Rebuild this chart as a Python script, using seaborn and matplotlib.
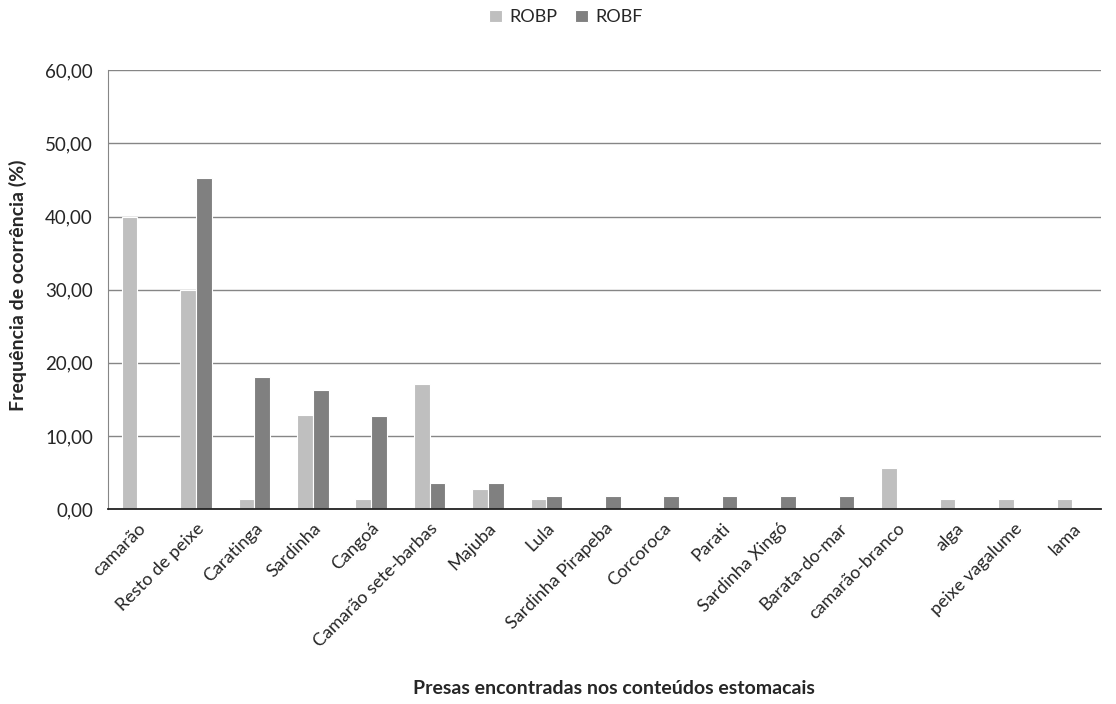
import pandas as pd
import matplotlib
matplotlib.use('Agg')
import matplotlib.pyplot as plt
import seaborn as sns
from matplotlib.ticker import FuncFormatter

presas = ["camarão", "Resto de peixe", "Caratinga", "Sardinha", "Cangoá",
          "Camarão sete-barbas", "Majuba", "Lula", "Sardinha Pirapeba",
          "Corcoroca", "Parati", "Sardinha Xingó", "Barata-do-mar",
          "camarão-branco", "alga", "peixe vagalume", "lama"]
robp = [39.9, 29.9, 1.33, 12.8, 1.33, 17.1, 2.8, 1.33, 0, 0, 0, 0, 0, 5.6, 1.33, 1.33, 1.33]
robf = [0, 45.3, 18.1, 16.3, 12.7, 3.6, 3.6, 1.75, 1.75, 1.75, 1.75, 1.75, 1.75, 0, 0, 0, 0]

df = pd.DataFrame({"presa": presas * 2,
                   "freq": robp + robf,
                   "grupo": ["ROBP"] * len(presas) + ["ROBF"] * len(presas)})

sns.set_style("white")
plt.rcParams['font.family'] = ['Lato', 'DejaVu Sans']

fig, ax = plt.subplots(figsize=(11.16, 7.04), dpi=100)
fig.subplots_adjust(left=0.097, right=0.987, top=0.9, bottom=0.277)

sns.barplot(data=df, x="presa", y="freq", hue="grupo",
            palette={"ROBP": "#BFBFBF", "ROBF": "#808080"},
            width=0.54, edgecolor="white", linewidth=0.8, ax=ax, zorder=3)

ax.set_ylim(0, 60)
ax.set_yticks(range(0, 61, 10))
ax.yaxis.set_major_formatter(FuncFormatter(lambda v, p: f"{v:.2f}".replace(".", ",")))
ax.grid(axis="y", color="#868686", linewidth=1, zorder=0)
ax.set_xlim(-0.5, len(presas) - 0.5)

for s in ["top", "right"]:
    ax.spines[s].set_visible(False)
ax.spines["left"].set_color("#868686")
ax.spines["bottom"].set_color("#222222")
ax.spines["bottom"].set_linewidth(1.3)
ax.spines["bottom"].set_zorder(4)

ax.tick_params(axis="y", length=6, color="#868686", labelsize=13.5, pad=5)
ax.tick_params(axis="x", length=0, labelsize=13, pad=8)
plt.setp(ax.get_xticklabels(), rotation=45, ha="right", rotation_mode="anchor")

ax.set_xlabel("Presas encontradas nos conteúdos estomacais", fontsize=14,
              fontweight="bold")
ax.xaxis.set_label_coords(0.509, -0.39)
ax.set_ylabel("Frequência de ocorrência (%)", fontsize=14, fontweight="bold")
ax.yaxis.set_label_coords(-0.082, 0.51)

ax.legend(loc="upper center", bbox_to_anchor=(0.507, 1.01),
          bbox_transform=fig.transFigure, ncol=2, frameon=False,
          fontsize=13, handlelength=0.7, handleheight=0.7, handletextpad=0.4,
          columnspacing=1.0, title=None)

fig.savefig("out.png", dpi=100)
